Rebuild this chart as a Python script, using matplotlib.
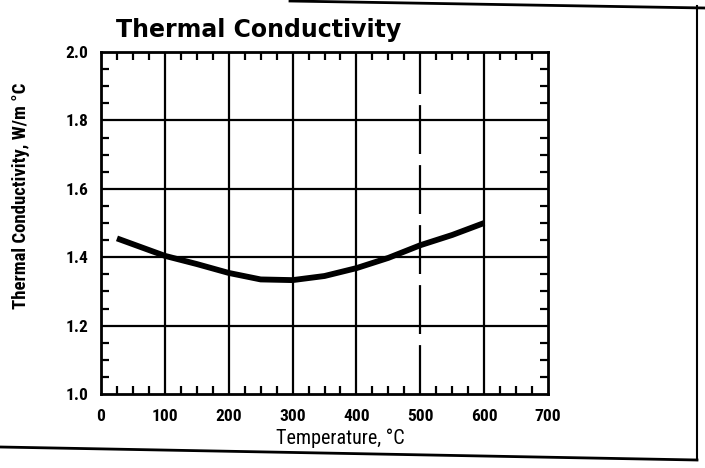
import matplotlib
matplotlib.use("Agg")
import matplotlib.pyplot as plt
from matplotlib.lines import Line2D
from matplotlib.ticker import MultipleLocator
from matplotlib import font_manager

# thermal conductivity vs temperature
temps = [25, 50, 100, 150, 200, 250, 300, 350, 400, 450, 500, 550, 600]
cond = [1.455, 1.438, 1.404, 1.380, 1.354, 1.335, 1.333, 1.345, 1.368, 1.398, 1.435, 1.465, 1.500]

x_ticks = [0, 100, 200, 300, 400, 500, 600, 700]
x_labels = ["0", "100", "200", "300", "400", "500", "600", "700"]
y_ticks = [1.0, 1.2, 1.4, 1.6, 1.8, 2.0]
y_labels = ["1.0", "1.2", "1.4", "1.6", "1.8", "2.0"]

# pick a narrow face if one is around
names = {f.name for f in font_manager.fontManager.ttflist}
narrow = "DejaVu Sans"
for cand in ["Liberation Sans Narrow", "Roboto Condensed", "Open Sans Condensed", "DejaVu Sans Condensed"]:
    if cand in names:
        narrow = cand
        break

W, H = 705, 468
fig = plt.figure(figsize=(W / 100, H / 100), dpi=100)
fig.patch.set_facecolor("white")

def fx(px):
    return px / W

def fy(py):
    return 1 - py / H

ax = fig.add_axes([fx(101), fy(394), fx(548) - fx(101), fy(52) - fy(394)])
ax.set_xlim(0, 700)
ax.set_ylim(1.0, 2.0)

# grid lines drawn by hand so 500 can be broken
for g in [1.2, 1.4, 1.6, 1.8]:
    ax.axhline(g, color="black", lw=1.6, zorder=1)
for g in [100, 200, 300, 400, 600]:
    ax.axvline(g, color="black", lw=1.6, zorder=1)
ax.axvline(500, color="black", lw=1.6, ls=(0, (22, 5)), zorder=1)

ax.plot(temps, cond, color="black", lw=4.2, solid_capstyle="butt", zorder=3)

for s in ax.spines.values():
    s.set_linewidth(2)

ax.set_xticks(x_ticks)
ax.set_xticklabels(x_labels)
ax.set_yticks(y_ticks)
ax.set_yticklabels(y_labels)
ax.xaxis.set_minor_locator(MultipleLocator(25))
ax.yaxis.set_minor_locator(MultipleLocator(0.05))
ax.tick_params(which="both", direction="in", top=True, right=True, width=1.6)
ax.tick_params(which="major", length=0)
ax.tick_params(axis="x", which="major", pad=11)
ax.tick_params(axis="y", which="major", pad=9)
ax.tick_params(which="minor", length=6)
for lab in ax.get_xticklabels() + ax.get_yticklabels():
    lab.set_family(narrow)
    lab.set_fontweight("bold")
    lab.set_fontstretch("condensed")
    lab.set_fontsize(12.5)

ax.set_xlabel("Temperature, °C", family=narrow, fontstretch="condensed", fontsize=14.5)
ax.xaxis.set_label_coords(0.535, -0.102)
ax.set_ylabel("Thermal Conductivity, W/m °C", family=narrow, fontstretch="condensed",
              fontweight="bold", fontsize=13.5)
ax.yaxis.set_label_coords(-0.158, 0.58)

fig.text(fx(116), fy(30), "Thermal Conductivity", family="DejaVu Sans",
         fontweight="heavy", fontsize=17, ha="left", va="center")

# page rules around the figure
fig.add_artist(Line2D([fx(0), fx(697)], [fy(447), fy(460)], color="black", lw=2))
fig.add_artist(Line2D([fx(697), fx(697)], [fy(460), fy(6)], color="black", lw=1.5))
fig.add_artist(Line2D([fx(290), fx(705)], [fy(1), fy(8)], color="black", lw=2))

fig.savefig("out.png", dpi=100)
